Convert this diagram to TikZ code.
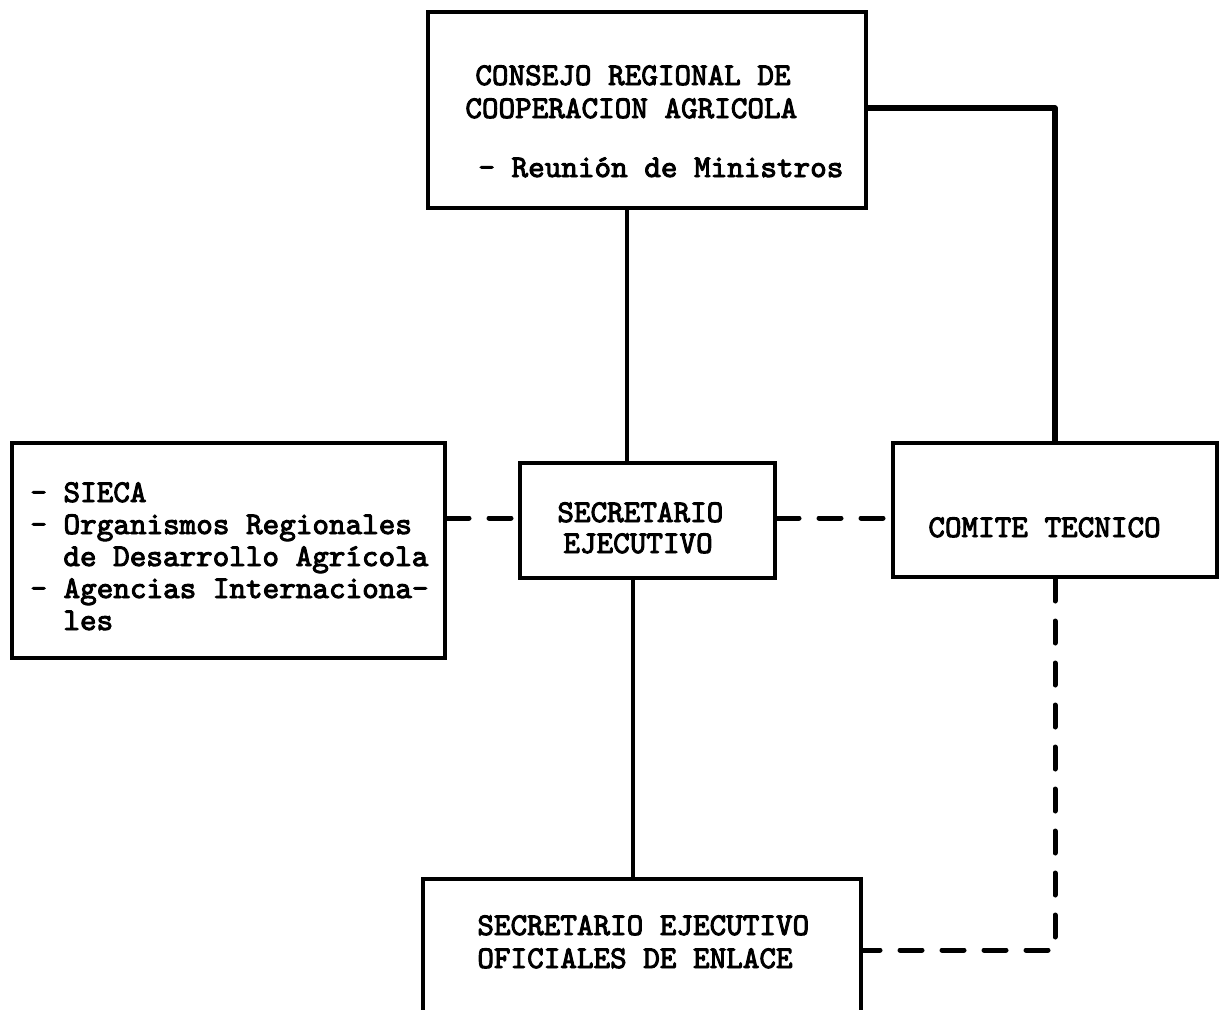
\documentclass[tikz,border=0pt]{standalone}
\usepackage{fontspec}
\newfontfamily\tw{lmmono10-regular.otf}[FakeBold=3]
\begin{document}
\begin{tikzpicture}[x=0.5pt,y=-0.5pt,
  box/.style={draw, line width=2pt, rectangle, inner sep=0pt},
  txt/.style={inner sep=0pt, anchor=base west, font=\tw\fontsize{15.8}{19}\selectfont},
  conn/.style={line width=2.3pt, line join=round},
  dconn/.style={line width=2.5pt, line cap=round, dash pattern=on 11pt off 10pt}]
\path[fill=white, use as bounding box] (0,0) rectangle (1221,1009);

% boxes
\node[box, minimum width=219pt, minimum height=98pt] (cons) at (647,110) {};
\node[box, minimum width=216.5pt, minimum height=107.5pt] (org) at (228.5,550.5) {};
\node[box, minimum width=127.5pt, minimum height=57.5pt] (sec) at (647.5,520.5) {};
\node[box, minimum width=162pt, minimum height=67pt] (com) at (1055,510) {};
\node[box, minimum width=219pt, minimum height=80.5pt] (ofi) at (642,959.5) {};

% texts
\node[txt] (c1) at (475,85) {CONSEJO REGIONAL DE};
\node[txt] (c2) at (465,118) {COOPERACION AGRICOLA};
\node[txt] (c3) at (478,177) {- Reunión de Ministros};

\node[txt] (o1) at (30,502) {- SIECA};
\node[txt] (o2) at (30,534) {- Organismos Regionales};
\node[txt] (o3) at (63,566) {de Desarrollo Agrícola};
\node[txt] (o4) at (30,598) {- Agencias Internaciona-};
\node[txt] (o5) at (63,630) {les};

\node[txt] (s1) at (557,522) {SECRETARIO};
\node[txt] (s2) at (563,553) {EJECUTIVO};

\node[txt] (m1) at (928,537) {COMITE TECNICO};

\node[txt] (f1) at (477,935) {SECRETARIO EJECUTIVO};
\node[txt] (f2) at (477,968) {OFICIALES DE ENLACE};

% helper coordinates
\coordinate (va) at (627,0);
\coordinate (vb) at (633,0);
\coordinate (hy) at (0,518);
\coordinate (hr) at (0,108);
\coordinate (kk) at (1053,950);

% connectors
\draw[conn] (cons.south -| va) -- (sec.north -| va);
\draw[conn] (sec.south -| vb) -- (ofi.north -| vb);
\draw[conn, line width=2.6pt] (cons.east |- hr) -| (com.north);
\draw[dconn] (org.east |- hy) -- (sec.west |- hy);
\draw[dconn] (sec.east |- hy) -- (com.west |- hy);
\draw[dconn, line join=round] (com.south) -- (com.south |- kk) -- (ofi.east |- kk);
\end{tikzpicture}
\end{document}
